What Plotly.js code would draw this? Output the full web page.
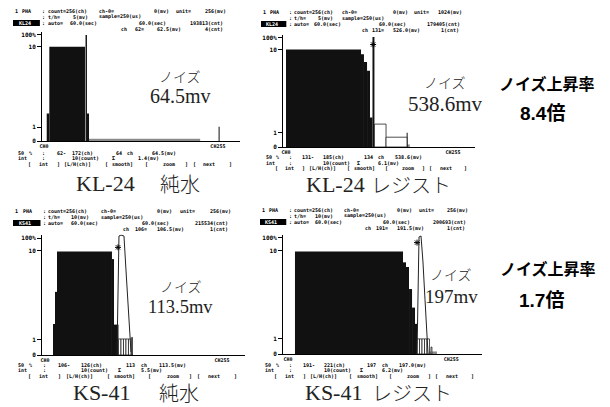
<!DOCTYPE html>
<html><head><meta charset="utf-8">
<script src="https://cdn.plot.ly/plotly-3.0.1.min.js"></script>
<style>html,body{margin:0;padding:0;background:#fff;}#chart{width:610px;height:407px;}</style>
</head><body><div id="chart"></div>
<script>
// ---------------- DATA ----------------
// y display level: 0 -> 0, 1 count -> 13, 10 counts -> 89, 100% -> 100
const levelTickVals = [0, 13, 89, 100];
const levelTickText = ['0', '1', '10', '100%'];
const chTickVals = [0, 255];
const chTickText = ['CH0', 'CH255'];

const panelTitles = ['KL-24', 'KL-24', 'KS-41', 'KS-41'];
const panelMedia = ['純水', 'レジスト', '純水', 'レジスト'];
const panelTags = ['KL24', 'KL24', 'KS41', 'KS41'];
const noiseLabel = 'ノイズ';
const noiseValues = ['64.5mv', '538.6mv', '113.5mv', '197mv'];
const riseLabel = 'ノイズ上昇率';
const riseRates = ['8.4倍', '1.7倍'];

// KL-24 純水
const kl24WaterSolidStart = [4.0, 7.8, 60.9, 63.0, 256.0];
const kl24WaterSolidWidth = [3.8, 52.3, 2.1, 3.0, 1.5];
const kl24WaterSolidLevel = [26, 89, 100, 26, 13.5];
const kl24WaterOutlineStart = [];
const kl24WaterOutlineWidth = [];
const kl24WaterOutlineLevel = [];
const kl24WaterBand = [64, 229];
const kl24WaterCurveCh = [];
const kl24WaterCurveLevel = [];
const kl24WaterCursor = [];

// KL-24 レジスト
const kl24ResistSolidStart = [0, 114.5, 119, 123.7, 128.2, 132, 184.2];
const kl24ResistSolidWidth = [114.5, 4.5, 4.7, 4.5, 3.8, 3, 1.5];
const kl24ResistSolidLevel = [89.5, 85, 78, 70, 27, 101, 13];
const kl24ResistOutlineStart = [135, 152.7];
const kl24ResistOutlineWidth = [17.7, 32];
const kl24ResistOutlineLevel = [21, 9];
const kl24ResistBand = [136, 189];
const kl24ResistCurveCh = [];
const kl24ResistCurveLevel = [];
const kl24ResistCursor = [133, 94];

// KS-41 純水
const ks41WaterSolidStart = [11.5, 14.4, 17.3, 96.5, 99.4];
const ks41WaterSolidWidth = [2.9, 2.9, 79.2, 2.9, 6.5];
const ks41WaterSolidLevel = [26.5, 54, 88.5, 82, 26];
const ks41WaterOutlineStart = [105.9, 109.5, 113.1, 116.7, 120.3, 124.6];
const ks41WaterOutlineWidth = [3.6, 3.6, 3.6, 3.6, 3.6, 1.5];
const ks41WaterOutlineLevel = [13.7, 13.7, 13.7, 13.7, 13.7, 15];
const ks41WaterBand = [103.7, 126.8];
const ks41WaterCurveCh = [103.7, 105.2, 106.6, 109.5, 113.8, 116.7, 119.6, 122.5, 123.9];
const ks41WaterCurveLevel = [0, 47, 101.7, 102.5, 101.7, 72.6, 47, 21.4, 2.6];
const ks41WaterCursor = [105.2, 92];

// KS-41 レジスト
const ks41ResistSolidStart = [10.9, 179.7, 184.4, 189.1, 193.8, 198.4];
const ks41ResistSolidWidth = [168.8, 4.7, 4.7, 4.7, 4.6, 3.2];
const ks41ResistSolidLevel = [88.4, 79, 75, 56, 40, 26];
const ks41ResistOutlineStart = [201.6, 205.5, 209.4, 213.3, 217.2, 223.4];
const ks41ResistOutlineWidth = [3.9, 3.9, 3.9, 3.9, 3.9, 1.5];
const ks41ResistOutlineLevel = [13, 13, 13, 13, 13, 6];
const ks41ResistBand = [201.6, 232.8];
const ks41ResistCurveCh = [201.6, 203.1, 204.7, 207.8, 210.9, 214.1, 217.2, 218.8];
const ks41ResistCurveLevel = [0, 46.6, 100.9, 101.7, 79.3, 46.6, 12.9, 0];
const ks41ResistCursor = [201.6, 96];

// instrument screen texts
const headerLine1 = [
  'count=256(ch) ch-0=          0(mv) unit=   256(mv)',
  'count=256(ch) ch-0=          0(mv) unit=  1024(mv)',
  'count=256(ch) ch-0=          0(mv) unit=   256(mv)',
  'count=256(ch) ch-0=          0(mv) unit=   256(mv)'];
const headerLine2 = [
  't/h=   5(mv)  sample=250(us)',
  't/h=   5(mv)  sample=250(us)',
  't/h=  10(mv)  sample=250(us)',
  't/h=  10(mv)  sample=250(us)'];
const headerLine3 = [
  'auto= 60.0(sec)          60.0(sec)     193813(cnt)',
  'auto= 60.0(sec)          60.0(sec)     179405(cnt)',
  'auto= 60.0(sec)          60.0(sec)     215534(cnt)',
  'auto= 60.0(sec)          60.0(sec)     200693(cnt)'];
const headerLine4 = [
  'ch  62=   62.5(mv)     4(cnt)',
  'ch 131=  526.0(mv)     1(cnt)',
  'ch 106=  106.5(mv)     1(cnt)',
  'ch 191=  191.5(mv)     1(cnt)'];
const footerLine1 = [
  '62- 172(ch)     64 ch     64.5(mv)',
  '131-  185(ch)     134 ch   538.6(mv)',
  '106-  126(ch)     113 ch   113.5(mv)',
  '191-  221(ch)     197 ch   197.0(mv)'];
const footerLine2 = [
  '    10(count)  Σ      1.4(mv)',
  '      10(count) Σ     6.1(mv)',
  '      10(count) Σ     5.5(mv)',
  '      10(count) Σ     6.2(mv)'];
const menuLine = '[  int  ] [L/H(ch)]  [ smooth]  [    zoom  ] [  next   ]';

// ---------------- LAYOUT / DRAWING ----------------
const W = 610, H = 407;
const MONO = 'DejaVu Sans Mono';
const px = v => v / W, py = v => 1 - v / H;

const panels = [
  {d:[kl24WaterSolidStart,kl24WaterSolidWidth,kl24WaterSolidLevel,kl24WaterOutlineStart,kl24WaterOutlineWidth,kl24WaterOutlineLevel,kl24WaterBand,kl24WaterCurveCh,kl24WaterCurveLevel,kl24WaterCursor],
   xPx:[42,240], yBot:141, yTop:31.8, xr:[-2.93,287.4],
   ox:15, cw:3.66, hy:[11,17,23,29], fy:[152.5,158.3,164],
   noise:[180,76,96,20], title:[105,184], media:[180,184]},
  {d:[kl24ResistSolidStart,kl24ResistSolidWidth,kl24ResistSolidLevel,kl24ResistOutlineStart,kl24ResistOutlineWidth,kl24ResistOutlineLevel,kl24ResistBand,kl24ResistCurveCh,kl24ResistCurveLevel,kl24ResistCursor],
   xPx:[283,475], yBot:147, yTop:34.7, xr:[-4.58,288.5],
   ox:263, cw:3.43, hy:[12,18,24,30], fy:[157,162.5,168],
   noise:[445,82,104,21], title:[335,184.5], media:[411,184.5]},
  {d:[ks41WaterSolidStart,ks41WaterSolidWidth,ks41WaterSolidLevel,ks41WaterOutlineStart,ks41WaterOutlineWidth,ks41WaterOutlineLevel,ks41WaterBand,ks41WaterCurveCh,ks41WaterCurveLevel,ks41WaterCursor],
   xPx:[42,245], yBot:355, yTop:234.5, xr:[-4.32,288.2],
   ox:15, cw:3.75, hy:[211,217,223,229], fy:[364.5,370,375.5],
   noise:[181,286,307,18.5], title:[101.5,392.5], media:[178.5,392.5]},
  {d:[ks41ResistSolidStart,ks41ResistSolidWidth,ks41ResistSolidLevel,ks41ResistOutlineStart,ks41ResistOutlineWidth,ks41ResistOutlineLevel,ks41ResistBand,ks41ResistCurveCh,ks41ResistCurveLevel,ks41ResistCursor],
   xPx:[283,482], yBot:354, yTop:234.5, xr:[-7.8,303.1],
   ox:262, cw:3.57, hy:[210,216,222,228], fy:[364.5,370,375.5],
   noise:[451,274,296,19], title:[333.5,392.5], media:[411.5,392.5]}
];

const traces = [];
const layout = {
  width: W, height: H, margin:{l:0,r:0,t:0,b:0},
  paper_bgcolor:'#fff', plot_bgcolor:'rgba(0,0,0,0)',
  showlegend:false, barmode:'overlay', annotations:[], shapes:[]
};
function txt(text, x, y, font, anchor){
  layout.annotations.push({text, x:px(x), y:py(y), xref:'paper', yref:'paper',
    xanchor:anchor||'left', yanchor:'middle', showarrow:false, borderpad:0, borderwidth:0, font});
}
// place each word of a fixed-pitch screen line at its column
function screenLine(str, x0, y, cw, font){
  const re = /\S+/g; let m;
  while ((m = re.exec(str)) !== null) txt(m[0], x0 + m.index * cw, y, font);
}

panels.forEach((p, i) => {
  const n = i === 0 ? '' : String(i + 1);
  const xa = 'x' + n, ya = 'y' + n;
  const [sS, sW, sL, oS, oW, oL, band, cCh, cLv, cur] = p.d;
  layout['xaxis' + n] = {
    domain:[px(p.xPx[0]), px(p.xPx[1])], range:p.xr, anchor:ya,
    tickvals:chTickVals, ticktext:chTickText, ticks:'', showline:true, linecolor:'#000', linewidth:1,
    showgrid:false, zeroline:false, fixedrange:true,
    tickfont:{family:MONO, size:5, color:'#000', weight:'bold'}
  };
  layout['yaxis' + n] = {
    domain:[py(p.yBot), py(p.yTop)], range:[0,103], anchor:xa,
    tickvals:levelTickVals, ticktext:levelTickText, ticks:'outside', ticklen:4, tickcolor:'#000', tickwidth:1,
    showline:true, linecolor:'#000', linewidth:1, showgrid:false, zeroline:false, fixedrange:true,
    tickfont:{family:MONO, size:6, color:'#000', weight:'bold'}
  };
  // L/H band
  traces.push({type:'bar', x:[band[0]], y:[2.2], width:[band[1]-band[0]], offset:0, base:0,
    marker:{color:'#8a8a8a', line:{width:0}}, xaxis:xa, yaxis:ya, hoverinfo:'skip'});
  // solid histogram bars
  traces.push({type:'bar', x:sS, y:sL, width:sW, offset:0,
    marker:{color:'#111', line:{width:0}}, xaxis:xa, yaxis:ya, hoverinfo:'skip'});
  // outlined bars
  if (oS.length) traces.push({type:'bar', x:oS, y:oL, width:oW, offset:0,
    marker:{color:'#fff', line:{width:0.8, color:'#222'}}, xaxis:xa, yaxis:ya, hoverinfo:'skip'});
  // smoothed curve
  if (cCh.length) traces.push({type:'scatter', mode:'lines', x:cCh, y:cLv,
    line:{color:'#222', width:1}, xaxis:xa, yaxis:ya, hoverinfo:'skip'});
  // cursor
  if (cur.length) traces.push({type:'scatter', mode:'markers', x:[cur[0]], y:[cur[1]],
    marker:{symbol:'asterisk-open', size:5, color:'#000', line:{width:1, color:'#000'}}, xaxis:xa, yaxis:ya, hoverinfo:'skip'});

  // screen texts
  const mono = {family:MONO, size:5, color:'#000', weight:'bold'};
  const colonX = p.ox + 7.5 * p.cw, restX = p.ox + 8.9 * p.cw;
  screenLine('1 PHA', p.ox, p.hy[0], p.cw, mono);
  for (let k = 0; k < 3; k++) txt(':', colonX, p.hy[k], mono);
  screenLine(headerLine1[i], restX, p.hy[0], p.cw, mono);
  screenLine(headerLine2[i], restX, p.hy[1], p.cw, mono);
  screenLine(headerLine3[i], restX, p.hy[2], p.cw, mono);
  screenLine(headerLine4[i], restX + 20 * p.cw, p.hy[3], p.cw, mono);
  layout.shapes.push({type:'rect', xref:'paper', yref:'paper',
    x0:px(p.ox - 2), x1:px(p.ox + 6.8 * p.cw), y0:py(p.hy[2] + 3), y1:py(p.hy[2] - 3),
    fillcolor:'#000', line:{width:0}});
  txt(panelTags[i], p.ox + 2.6 * p.cw, p.hy[2], {family:MONO, size:5, color:'#fff', weight:'bold'}, 'center');
  const fx = p.ox + 11.5 * p.cw;
  screenLine('50 %', p.ox + 0.8 * p.cw, p.fy[0], p.cw, mono);
  txt(':', colonX, p.fy[0], mono);
  screenLine(footerLine1[i], fx, p.fy[0], p.cw, mono);
  screenLine('int', p.ox + 0.8 * p.cw, p.fy[1], p.cw, mono);
  txt(':', colonX, p.fy[1], mono);
  screenLine(footerLine2[i], fx, p.fy[1], p.cw, mono);
  screenLine(menuLine, p.ox + 3.5 * p.cw, p.fy[2], p.cw, mono);

  // noise annotation
  txt(noiseLabel, p.noise[0], p.noise[1], {family:'Noto Sans CJK JP', size:14, weight:300, color:'#222'}, 'center');
  txt(noiseValues[i], p.noise[0], p.noise[2], {family:'Liberation Serif', size:p.noise[3], color:'#222'}, 'center');
  // bottom caption
  txt(panelTitles[i], p.title[0], p.title[1], {family:'Liberation Serif', size:22, color:'#222'}, 'center');
  txt(panelMedia[i], p.media[0], p.media[1], {family:'Noto Sans CJK JP', size:20, weight:300, color:'#222'}, 'center');
});

// rise-rate notes
txt(riseLabel, 546.5, 82.5, {family:'Noto Sans CJK JP', size:16, weight:'bold', color:'#000'}, 'center');
txt(riseRates[0], 542, 113.5, {family:'Liberation Sans, Noto Sans CJK JP', size:19, weight:'bold', color:'#000'}, 'center');
txt(riseLabel, 548, 267.5, {family:'Noto Sans CJK JP', size:16, weight:'bold', color:'#000'}, 'center');
txt(riseRates[1], 541.5, 300, {family:'Liberation Sans, Noto Sans CJK JP', size:19, weight:'bold', color:'#000'}, 'center');

Plotly.newPlot('chart', traces, layout, {staticPlot:true, displayModeBar:false});
</script>
</body></html>
